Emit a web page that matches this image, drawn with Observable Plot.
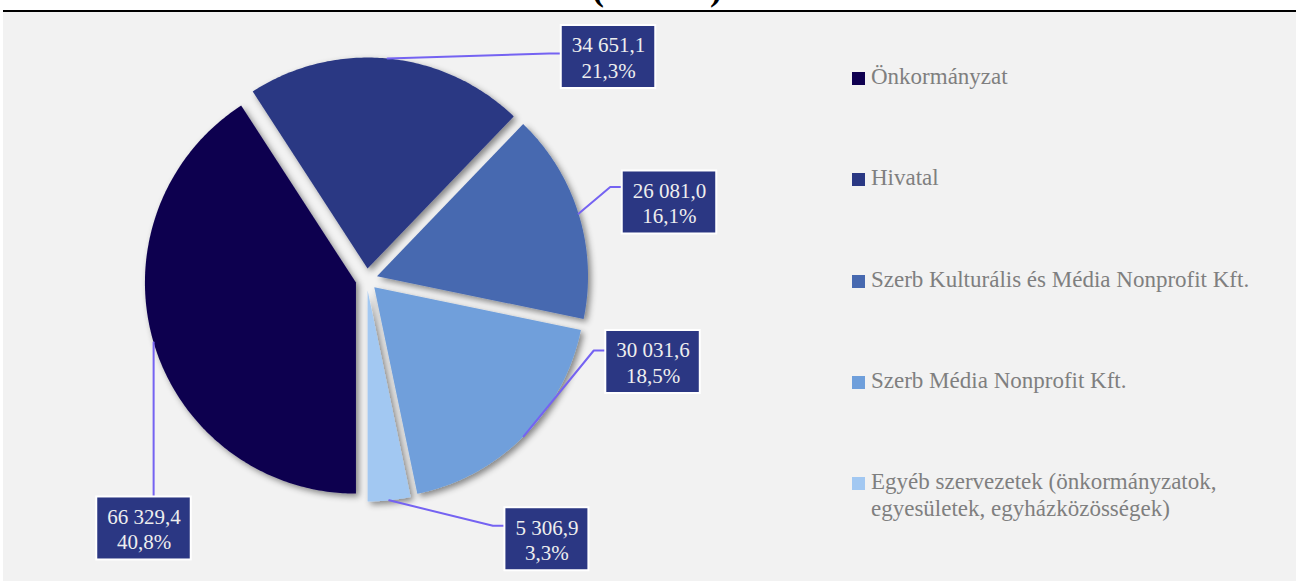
<!DOCTYPE html>
<html><head><meta charset="utf-8">
<script src="https://cdn.jsdelivr.net/npm/d3@7"></script>
<script src="https://cdn.jsdelivr.net/npm/@observablehq/plot@0.6"></script>
<style>
html,body{margin:0;padding:0;}
body{background:#fff;width:1296px;height:581px;overflow:hidden;position:relative;font-family:"Liberation Serif","DejaVu Serif",serif;}
#title{position:absolute;left:0;width:1314px;text-align:center;top:-30px;font-weight:bold;font-size:36px;line-height:36px;color:#000;white-space:nowrap;}
#topline{position:absolute;left:3px;top:10px;width:1293px;height:2px;background:#000;}
#chart{position:absolute;left:3px;top:12px;width:1293px;height:569px;background:#f2f2f2;}
#chart svg{position:absolute;left:0;top:0;}
.sq{position:absolute;width:13px;height:13px;}
.lt{position:absolute;font-size:23px;line-height:26.7px;color:#7f7f7f;max-width:415px;}
</style></head><body>
<div id="title">(ezer Ft)</div>
<div id="topline"></div>
<div id="chart"></div>
<script>
// ---- data ----
const categories = ["Önkormányzat", "Hivatal", "Szerb Kulturális és Média Nonprofit Kft.", "Szerb Média Nonprofit Kft.", "Egyéb szervezetek (önkormányzatok, egyesületek, egyházközösségek)"];
const values = [66329.4, 34651.1, 26081.0, 30031.6, 5306.9];
const valueLabels = ["66 329,4", "34 651,1", "26 081,0", "30 031,6", "5 306,9"];
const percentLabels = ["40,8%", "21,3%", "16,1%", "18,5%", "3,3%"];
const colors = ["#0f0050", "#2a3883", "#4769b0", "#6f9fdb", "#a2c8f2"];

// ---- layout (pixels / radius units) ----
const W = 1293, H = 569;
const cx = 363, cy = 267, R = 211, explodePx = 11;
// label box centres in radius units relative to pie centre
const labelX = [-1.0545, 1.147, 1.436, 1.358, 0.855];
const labelY = [-1.180, 1.0545, 0.365, -0.391, -1.231];
const labelSide = ["top", "left", "left", "left", "left"];
const attachPx = [0, 28, 16, 20, 18];
const boxH = 63, padX = 10.5, elbowPx = 12, fontSize = 21;

const pie = d3.pie().sort(null).startAngle(Math.PI).endAngle(3 * Math.PI)(values);
const off = explodePx / R;

const slicePts = [];
const leaderPts = [];
const boxes = [];
const ctx = document.createElement("canvas").getContext("2d");
ctx.font = `${fontSize}px "Liberation Serif"`;

pie.forEach((a, i) => {
  const m = (a.startAngle + a.endAngle) / 2;
  const ox = off * Math.sin(m), oy = off * Math.cos(m);
  slicePts.push({name: categories[i], x: ox, y: oy});
  const N = Math.max(8, Math.ceil((a.endAngle - a.startAngle) * 80));
  for (let k = 0; k <= N; k++) {
    const t = a.startAngle + (a.endAngle - a.startAngle) * k / N;
    slicePts.push({name: categories[i], x: ox + Math.sin(t), y: oy + Math.cos(t)});
  }
  const tw = Math.max(ctx.measureText(valueLabels[i]).width, ctx.measureText(percentLabels[i]).width);
  const bw = (tw + 2 * padX) / R, bh = boxH / R;
  const b = {name: categories[i], cxu: labelX[i], cyu: labelY[i], x1: labelX[i] - bw / 2, x2: labelX[i] + bw / 2, y1: labelY[i] - bh / 2, y2: labelY[i] + bh / 2, text: valueLabels[i] + "\n" + percentLabels[i]};
  boxes.push(b);
  const sx = ox + Math.sin(m), sy = oy + Math.cos(m);
  let pts;
  if (labelSide[i] === "top") {
    pts = [[sx, sy], [sx, b.y2]];
  } else {
    const ey = b.y2 - attachPx[i] / R;
    pts = [[sx, sy], [b.x1 - elbowPx / R, ey], [b.x1, ey]];
  }
  pts.forEach(p => leaderPts.push({name: categories[i], x: p[0], y: p[1]}));
});

const plot = Plot.plot({
  width: W, height: H,
  margin: 0,
  style: {background: "transparent", overflow: "visible"},
  x: {domain: [-1, 1], range: [cx - R, cx + R], axis: null},
  y: {domain: [-1, 1], range: [cy + R, cy - R], axis: null},
  color: {domain: categories, range: colors},
  marks: [
    Plot.line(slicePts, {x: "x", y: "y", z: "name", fill: "name", stroke: "none", curve: "linear-closed"}),
    Plot.line(leaderPts, {x: "x", y: "y", z: "name", stroke: "#7563f2", strokeWidth: 2}),
    Plot.rect(boxes, {x1: "x1", x2: "x2", y1: "y1", y2: "y2", fill: "#2b3783", stroke: "#ffffff", strokeWidth: 2}),
    Plot.text(boxes, {x: "cxu", y: "cyu", text: "text", fill: "#eeeeee", fontSize: fontSize, fontFamily: "Liberation Serif", lineHeight: 1.22, textAnchor: "middle"})
  ]
});

const svgNS = "http://www.w3.org/2000/svg";
const defs = document.createElementNS(svgNS, "defs");
defs.innerHTML = '<filter id="shadow" x="-20%" y="-20%" width="140%" height="140%"><feDropShadow dx="3" dy="3" stdDeviation="3" flood-color="#000" flood-opacity="0.45"/></filter>';
plot.insertBefore(defs, plot.firstChild);
const firstLine = plot.querySelector('g[aria-label="line"]');
if (firstLine) firstLine.setAttribute("filter", "url(#shadow)");

document.getElementById("chart").appendChild(plot);

// legend
const legendTop = 72, legendStep = 101.3;
categories.forEach((c, i) => {
  const sq = document.createElement("div");
  sq.className = "sq";
  sq.style.left = "852px";
  sq.style.top = (legendTop + i * legendStep) + "px";
  sq.style.background = colors[i];
  document.body.appendChild(sq);
  const t = document.createElement("div");
  t.className = "lt";
  t.style.left = "871px";
  t.style.top = (legendTop + i * legendStep - 8) + "px";
  t.textContent = c;
  document.body.appendChild(t);
});
</script>
</body></html>
